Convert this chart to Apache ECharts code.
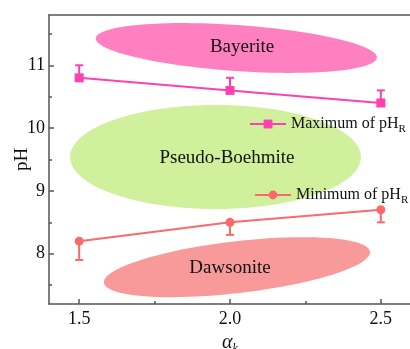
<!DOCTYPE html>
<html>
<head>
<meta charset="utf-8">
<script src="https://cdn.jsdelivr.net/npm/echarts@6/dist/echarts.min.js"></script>
<style>
  html, body { margin: 0; padding: 0; background: #fff; }
  #chart { width: 410px; height: 349px; }
</style>
</head>
<body>
<div id="chart"></div>
<script>
// Measured pH_R bounds versus alpha_k
const alpha = [1.5, 2.0, 2.5];
const phMax = [10.8, 10.6, 10.4];
const phMaxErrUp = [0.2, 0.2, 0.2];
const phMin = [8.2, 8.5, 8.7];
const phMinErrDown = [0.3, 0.2, 0.2];

// Axis ticks
const xTicks = [1.5, 2.0, 2.5];
const xMinorTicks = [1.75, 2.25];
const yTicks = [8, 9, 10, 11];
const yMinorTicks = [7.5, 8.5, 9.5, 10.5, 11.5];

// Phase regions (centre, half extents in axis units, tilt in degrees, label anchor)
const regionNames = ['Bayerite', 'Pseudo-Boehmite', 'Dawsonite'];
const regionCenterX = [2.021, 1.952, 2.023];
const regionCenterY = [11.275, 9.54, 7.786];
const regionHalfX = [0.467, 0.482, 0.444];
const regionHalfY = [0.366, 0.828, 0.412];
const regionTilt = [3.95, 0, -6.65];
const regionLabelX = [2.04, 1.99, 2.0];
const regionLabelY = [11.29, 9.52, 7.78];

const FONT = "'Liberation Serif', 'Times New Roman', serif";
const AXIS_COLOR = '#555';
const TEXT_COLOR = '#111';
const MAX_COLOR = '#ff40b0';
const MIN_COLOR = '#fb6a6a';
const REGION_COLORS = ['#ff80c0', '#d0f09b', '#f99a9a'];

const X_MIN = 1.4, X_MAX = 2.6, Y_MIN = 7.2, Y_MAX = 11.8;

const regionData = regionNames.map((n, i) => [
  regionCenterX[i], regionCenterY[i], regionHalfX[i], regionHalfY[i],
  regionTilt[i], regionLabelX[i], regionLabelY[i], i
]);

function renderRegion(params, api) {
  const c = api.coord([api.value(0), api.value(1)]);
  const rx = api.size([api.value(2), 0])[0];
  const ry = api.size([0, api.value(3)])[1];
  const t = api.value(4) * Math.PI / 180;
  const idx = api.value(7);
  const pts = [];
  const N = 96;
  for (let k = 0; k < N; k++) {
    const a = 2 * Math.PI * k / N;
    const ex = rx * Math.cos(a), ey = ry * Math.sin(a);
    pts.push([c[0] + ex * Math.cos(t) - ey * Math.sin(t),
              c[1] + ex * Math.sin(t) + ey * Math.cos(t)]);
  }
  const lp = api.coord([api.value(5), api.value(6)]);
  return {
    type: 'group',
    children: [
      { type: 'polygon', shape: { points: pts },
        style: { fill: REGION_COLORS[idx], stroke: null } },
      { type: 'text', x: lp[0], y: lp[1],
        style: { text: regionNames[idx], font: '19px ' + FONT, fill: TEXT_COLOR,
                 align: 'center', verticalAlign: 'middle' } }
    ]
  };
}

function makeErrorRenderer(color) {
  return function (params, api) {
    const p0 = api.coord([api.value(0), api.value(1)]);
    const p1 = api.coord([api.value(0), api.value(2)]);
    const cap = 4;
    return {
      type: 'group',
      children: [
        { type: 'line', shape: { x1: p0[0], y1: p0[1], x2: p1[0], y2: p1[1] },
          style: { stroke: color, lineWidth: 2 } },
        { type: 'line', shape: { x1: p1[0] - cap, y1: p1[1], x2: p1[0] + cap, y2: p1[1] },
          style: { stroke: color, lineWidth: 2 } }
      ]
    };
  };
}

const maxErrData = alpha.map((a, i) => [a, phMax[i], phMax[i] + phMaxErrUp[i]]);
const minErrData = alpha.map((a, i) => [a, phMin[i], phMin[i] - phMinErrDown[i]]);

const legendRich = {
  m: { fontFamily: FONT, fontSize: 16, color: TEXT_COLOR, lineHeight: 22 },
  s: { fontFamily: FONT, fontSize: 11, color: TEXT_COLOR, lineHeight: 11, verticalAlign: 'bottom' }
};
const legendFormatter = name => '{m|' + name.replace(/pHR$/, 'pH') + '}{s|R}';

const chart = echarts.init(document.getElementById('chart'), null, { renderer: 'canvas' });

const axisBase = {
  type: 'value',
  splitLine: { show: false },
  axisLine: { show: true, lineStyle: { color: AXIS_COLOR, width: 1.5 } }
};

chart.setOption({
  animation: false,
  backgroundColor: '#fff',
  grid: { left: 49, top: 15, width: 362, height: 289, containLabel: false, outerBoundsMode: 'none' },
  legend: [
    {
      data: ['Maximum of pHR'], left: 249, top: 116, padding: 0,
      itemWidth: 36, itemHeight: 11, selectedMode: false,
      formatter: legendFormatter, textStyle: { rich: legendRich }
    },
    {
      data: ['Minimum of pHR'], left: 254, top: 187, padding: 0,
      itemWidth: 36, itemHeight: 11, selectedMode: false,
      formatter: legendFormatter, textStyle: { rich: legendRich }
    }
  ],
  xAxis: [
    Object.assign({}, axisBase, {
      min: X_MIN, max: X_MAX, position: 'bottom',
      axisTick: { inside: true, length: 5, customValues: xTicks,
                  lineStyle: { color: AXIS_COLOR, width: 1.5 } },
      axisLabel: { customValues: xTicks, formatter: v => v.toFixed(1),
                   fontFamily: FONT, fontSize: 18, color: TEXT_COLOR, margin: 6 },
      name: '{a|α}{k|k}', nameLocation: 'middle', nameGap: 21,
      nameTextStyle: { rich: {
        a: { fontFamily: FONT, fontStyle: 'italic', fontSize: 20, color: TEXT_COLOR, lineHeight: 24 },
        k: { fontFamily: FONT, fontStyle: 'italic', fontSize: 12, color: TEXT_COLOR, lineHeight: 12, verticalAlign: 'bottom' }
      } }
    }),
    Object.assign({}, axisBase, {
      min: X_MIN, max: X_MAX, position: 'bottom',
      axisLine: { show: false },
      axisTick: { inside: true, length: 3, customValues: xMinorTicks,
                  lineStyle: { color: AXIS_COLOR, width: 1.5 } },
      axisLabel: { show: false }
    }),
    Object.assign({}, axisBase, {
      min: X_MIN, max: X_MAX, position: 'top',
      axisTick: { show: false }, axisLabel: { show: false }
    })
  ],
  yAxis: [
    Object.assign({}, axisBase, {
      min: Y_MIN, max: Y_MAX, position: 'left',
      axisTick: { inside: true, length: 5, customValues: yTicks,
                  lineStyle: { color: AXIS_COLOR, width: 1.5 } },
      axisLabel: { customValues: yTicks, fontFamily: FONT, fontSize: 18,
                   color: TEXT_COLOR, margin: 4 },
      name: 'pH', nameLocation: 'middle', nameGap: 17, nameMoveOverlap: false,
      nameTextStyle: { fontFamily: FONT, fontSize: 19, color: TEXT_COLOR }
    }),
    Object.assign({}, axisBase, {
      min: Y_MIN, max: Y_MAX, position: 'left',
      axisLine: { show: false },
      axisTick: { inside: true, length: 3, customValues: yMinorTicks,
                  lineStyle: { color: AXIS_COLOR, width: 1.5 } },
      axisLabel: { show: false }
    })
  ],
  series: [
    {
      type: 'custom', name: 'regions', renderItem: renderRegion,
      data: regionData, z: 1, silent: true,
      encode: { x: 0, y: 1 }
    },
    {
      type: 'custom', name: 'maxErr', renderItem: makeErrorRenderer(MAX_COLOR),
      data: maxErrData, z: 2, silent: true, encode: { x: 0, y: [1, 2] }
    },
    {
      type: 'custom', name: 'minErr', renderItem: makeErrorRenderer(MIN_COLOR),
      data: minErrData, z: 2, silent: true, encode: { x: 0, y: [1, 2] }
    },
    {
      type: 'line', name: 'Maximum of pHR', z: 3,
      data: alpha.map((a, i) => [a, phMax[i]]),
      symbol: 'rect', symbolSize: 9,
      itemStyle: { color: MAX_COLOR },
      lineStyle: { color: MAX_COLOR, width: 2 }
    },
    {
      type: 'line', name: 'Minimum of pHR', z: 3,
      data: alpha.map((a, i) => [a, phMin[i]]),
      symbol: 'circle', symbolSize: 9,
      itemStyle: { color: MIN_COLOR },
      lineStyle: { color: MIN_COLOR, width: 2 }
    }
  ]
});
</script>
</body>
</html>
